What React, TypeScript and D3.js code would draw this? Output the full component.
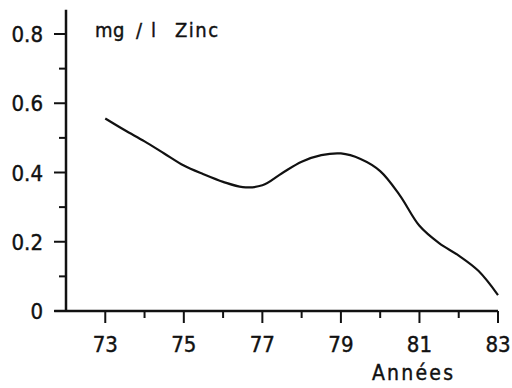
import React from "react";
import * as d3 from "d3";

// Zinc concentration (mg/l), every half year
const years: number[] = [73, 73.5, 74, 74.5, 75, 75.5, 76, 76.5, 77, 77.5, 78, 78.5, 79, 79.5, 80, 80.5, 81, 81.5, 82, 82.5, 83];
const values: number[] = [0.556, 0.522, 0.49, 0.455, 0.42, 0.395, 0.373, 0.358, 0.363, 0.398, 0.431, 0.45, 0.455, 0.439, 0.404, 0.334, 0.246, 0.196, 0.16, 0.116, 0.046];

const yMajor: number[] = [0, 0.2, 0.4, 0.6, 0.8];
const yMinor: number[] = [0.1, 0.3, 0.5, 0.7];
const yLabels: string[] = ["0", "0.2", "0.4", "0.6", "0.8"];
const xMajor: number[] = [73, 75, 77, 79, 81, 83];
const xMinor: number[] = [74, 76, 78, 80, 82];
const xLabels: string[] = ["73", "75", "77", "79", "81", "83"];

const W = 512;
const H = 388;
const font = "'DejaVu Sans Condensed', 'DejaVu Sans', sans-serif";
const ink = "#111";

export default function App() {
  const x = d3.scaleLinear().domain([72, 83]).range([66, 498]);
  const y = d3.scaleLinear().domain([0, 0.8]).range([311, 34]);

  const pts = years.map((yr, i) => [yr, values[i]] as [number, number]);
  const line = d3
    .line<[number, number]>()
    .x((d) => x(d[0]))
    .y((d) => y(d[1]))
    .curve(d3.curveCatmullRom.alpha(0.5));

  const x0 = x(72);
  const y0 = y(0);
  const txt = { fontFamily: font, fill: ink, stroke: ink, strokeWidth: 0.4 };

  return (
    <svg width={W} height={H} style={{ position: "absolute", left: 0, top: 0, background: "#fff" }}>
      {/* axes */}
      <line x1={x0} x2={x0} y1={y0} y2={y(0.87)} stroke={ink} strokeWidth={2.5} />
      <line x1={x(71.7)} x2={x(83)} y1={y0} y2={y0} stroke={ink} strokeWidth={2.5} />

      {yMajor.map((v, i) => (
        <g key={"ym" + v}>
          <line x1={x0 - 12} x2={x0} y1={y(v)} y2={y(v)} stroke={ink} strokeWidth={2} />
          <text x={43} y={y(v)} dy="0.37em" textAnchor="end" fontSize={22} {...txt}>
            {yLabels[i]}
          </text>
        </g>
      ))}
      {yMinor.map((v) => (
        <line key={"yn" + v} x1={x0 - 7} x2={x0} y1={y(v)} y2={y(v)} stroke={ink} strokeWidth={2} />
      ))}

      {xMajor.map((v, i) => (
        <g key={"xm" + v}>
          <line x1={x(v)} x2={x(v)} y1={y0} y2={y0 + 12} stroke={ink} strokeWidth={2} />
          <text x={x(v)} y={352} textAnchor="middle" fontSize={22} {...txt}>
            {xLabels[i]}
          </text>
        </g>
      ))}
      {xMinor.map((v) => (
        <line key={"xn" + v} x1={x(v)} x2={x(v)} y1={y0} y2={y0 + 7} stroke={ink} strokeWidth={2} />
      ))}

      {/* series */}
      <path d={line(pts) ?? ""} fill="none" stroke={ink} strokeWidth={2.2} />

      {/* labels */}
      <text y={37} fontSize={20} {...txt}>
        <tspan x={95} letterSpacing={0.5}>mg</tspan>
        <tspan x={136}>/</tspan>
        <tspan x={151}>l</tspan>
        <tspan x={175} letterSpacing={1.5}>Zinc</tspan>
      </text>
      <text x={372} y={380} fontSize={21} letterSpacing={2.2} {...txt}>
        Années
      </text>
    </svg>
  );
}
